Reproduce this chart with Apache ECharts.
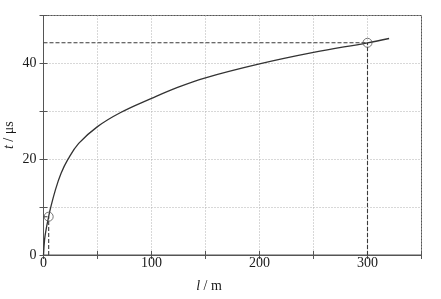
<!DOCTYPE html>
<html>
<head>
<meta charset="utf-8">
<script src="https://cdn.jsdelivr.net/npm/echarts@6/dist/echarts.min.js"></script>
<style>html,body{margin:0;padding:0;background:#fff;}#c{width:441px;height:299px;}</style>
</head>
<body>
<div id="c"></div>
<script>
// Curve: length l (m) vs time t (µs)
const curveL = [0, 1, 2.3, 4.8, 6.3, 10.9, 16.2, 22.7, 32.6, 50, 71, 100, 123, 150, 200, 250, 300, 320];
const curveT = [0, 3.2, 5.2, 8.0, 9.6, 13.5, 17.0, 20, 23.3, 26.8, 29.7, 32.7, 34.9, 37.0, 39.9, 42.3, 44.3, 45.2];
// Marked points
const markL = [4.8, 300];
const markT = [8.0, 44.3];
// Axis tick labels
const xTicks = [0, 100, 200, 300];
const yTicks = [0, 20, 40];

const font = 'Liberation Serif';
const axisCol = '#555';
const txtCol = '#1a1a1a';
const curve = curveL.map((l, i) => [l, curveT[i]]);
const marks = markL.map((l, i) => [l, markT[i]]);

const guideSeries = [];
marks.forEach(p => {
  guideSeries.push({type: 'line', data: [[0, p[1]], [p[0], p[1]]], symbol: 'none', silent: true,
    lineStyle: {color: '#3a3a3a', width: 1.1, type: [4, 2]}, z: 3});
  guideSeries.push({type: 'line', data: [[p[0], 0], [p[0], p[1]]], symbol: 'none', silent: true,
    lineStyle: {color: '#3a3a3a', width: 1.1, type: [4, 2]}, z: 3});
});

const chart = echarts.init(document.getElementById('c'));
chart.setOption({
  animation: false,
  backgroundColor: '#fff',
  grid: {left: 43.5, right: 19.5, top: 15.5, bottom: 44, show: true, borderColor: axisCol, borderWidth: 1,
    containLabel: false, outerBoundsMode: 'none'},
  xAxis: [{
    type: 'value', min: 0, max: 350, interval: 50,
    name: '{i|l} / m', nameLocation: 'middle', nameGap: 24, nameMoveOverlap: false,
    nameTextStyle: {fontFamily: font, fontSize: 14, color: txtCol, padding: [0, 47, 0, 0],
      rich: {i: {fontStyle: 'italic', fontFamily: font, fontSize: 14, color: txtCol}}},
    axisLine: {lineStyle: {color: axisCol, width: 1}},
    axisTick: {inside: true, length: 4, lineStyle: {color: axisCol}},
    axisLabel: {margin: 1, fontFamily: font, fontSize: 14, color: txtCol,
      formatter: v => xTicks.includes(v) ? String(v) : ''},
    splitLine: {show: true, lineStyle: {color: '#b0b0b0', type: [1, 2], width: 1}}
  }, {
    type: 'value', min: 0, max: 350, interval: 50, position: 'top',
    axisLine: {show: true, lineStyle: {color: axisCol}},
    axisTick: {inside: true, length: 4, lineStyle: {color: axisCol}},
    axisLabel: {show: false}, splitLine: {show: false}
  }],
  yAxis: [{
    type: 'value', min: 0, max: 50, interval: 10,
    name: '{i|t} / μs', nameLocation: 'middle', nameGap: 27, nameMoveOverlap: false,
    nameTextStyle: {fontFamily: font, fontSize: 14, color: txtCol,
      rich: {i: {fontStyle: 'italic', fontFamily: font, fontSize: 14, color: txtCol}}},
    axisLine: {show: true, lineStyle: {color: axisCol, width: 1}},
    axisTick: {show: true, inside: true, length: 4, lineStyle: {color: axisCol}},
    axisLabel: {margin: 7, fontFamily: font, fontSize: 14, color: txtCol,
      formatter: v => yTicks.includes(v) ? String(v) : ''},
    splitLine: {show: true, lineStyle: {color: '#b0b0b0', type: [1, 2], width: 1}}
  }, {
    type: 'value', min: 0, max: 50, interval: 10, position: 'right',
    axisLine: {show: true, lineStyle: {color: axisCol}},
    axisTick: {show: true, inside: true, length: 4, lineStyle: {color: axisCol}},
    axisLabel: {show: false}, splitLine: {show: false}
  }],
  series: [
    ...guideSeries,
    {type: 'line', data: curve, smooth: 0.4, symbol: 'none',
      lineStyle: {color: '#333', width: 1.3}, z: 4},
    {type: 'scatter', data: marks, symbol: 'circle', symbolSize: 9,
      itemStyle: {color: 'rgba(255,255,255,0)', borderColor: '#555', borderWidth: 1}, z: 5}
  ]
});
</script>
</body>
</html>
